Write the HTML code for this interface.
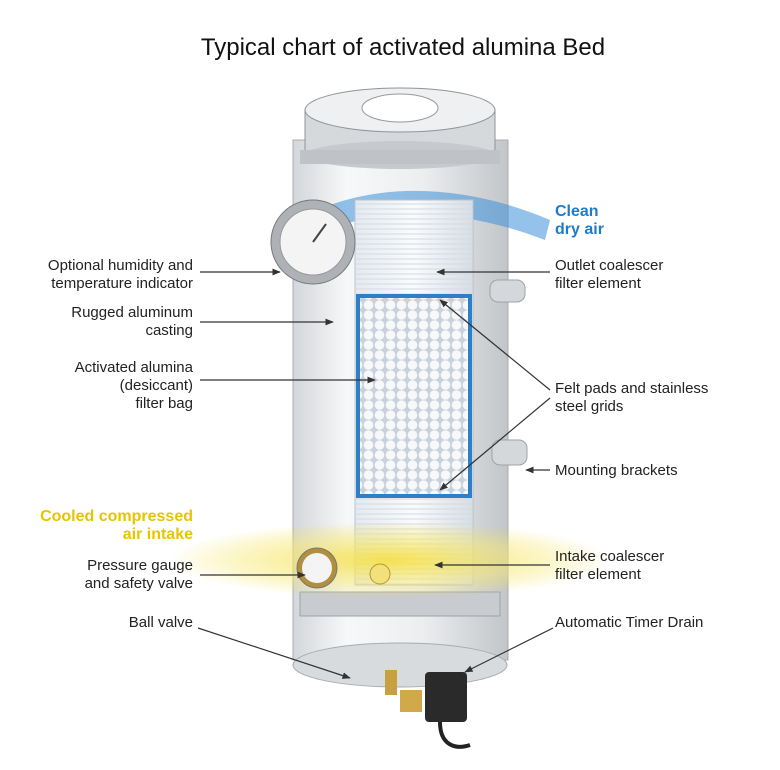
<!DOCTYPE html>
<html><head><meta charset="utf-8"><style>
html,body{margin:0;padding:0;background:#fff;}
svg{display:block;font-family:"Liberation Sans",Arial,sans-serif;}
.l{font-size:15px;fill:#222;}
</style></head><body>
<svg width="780" height="770" viewBox="0 0 780 770" xmlns="http://www.w3.org/2000/svg">
<defs>
<linearGradient id="body" x1="0" x2="1" y1="0" y2="0">
<stop offset="0" stop-color="#d3d6da"/><stop offset="0.25" stop-color="#f7f8f9"/><stop offset="0.6" stop-color="#eceef0"/><stop offset="1" stop-color="#c2c5c9"/></linearGradient>
<linearGradient id="cart" x1="0" x2="1"><stop offset="0" stop-color="#e4eaf0"/><stop offset="0.5" stop-color="#fafbfc"/><stop offset="1" stop-color="#d6dde5"/></linearGradient>
<pattern id="beads" width="11" height="10" patternUnits="userSpaceOnUse">
<rect width="11" height="10" fill="#c9d2dc"/><circle cx="5.5" cy="5" r="4.8" fill="#f7f8fa"/></pattern>
<pattern id="ridge" width="6" height="5" patternUnits="userSpaceOnUse"><rect width="6" height="5" fill="none"/><line x1="0" y1="4" x2="6" y2="4" stroke="#d3dae2" stroke-width="1"/></pattern>
<radialGradient id="yel" cx="0.5" cy="0.5" r="0.5"><stop offset="0" stop-color="#f5e04a" stop-opacity="0.95"/><stop offset="0.6" stop-color="#f7e870" stop-opacity="0.5"/><stop offset="1" stop-color="#f5e04a" stop-opacity="0"/></radialGradient>
<marker id="a" viewBox="0 0 10 10" refX="9" refY="5" markerWidth="7" markerHeight="7" orient="auto"><path d="M0,1 L10,5 L0,9 z" fill="#333"/></marker>
</defs>
<text x="403" y="55" text-anchor="middle" font-size="24" fill="#111">Typical chart of activated alumina Bed</text>
<!-- body -->
<rect x="293" y="140" width="215" height="520" fill="url(#body)" stroke="#a8adb2"/>
<ellipse cx="400" cy="665" rx="107" ry="22" fill="#d8dbde" stroke="#a8adb2"/>
<!-- top cap -->
<rect x="305" y="110" width="190" height="45" fill="#d6d9dc" stroke="#8f9499"/>
<ellipse cx="400" cy="155" rx="95" ry="14" fill="#c6c9cd"/>
<ellipse cx="400" cy="110" rx="95" ry="22" fill="#eef0f1" stroke="#8f9499"/>
<ellipse cx="400" cy="108" rx="38" ry="14" fill="#fff" stroke="#999"/>
<!-- clamp rings -->
<rect x="300" y="150" width="200" height="14" fill="#bfc3c7"/>
<rect x="300" y="592" width="200" height="24" fill="#c8cbcf" stroke="#9ea3a8"/>
<!-- brackets -->
<rect x="490" y="280" width="35" height="22" rx="8" fill="#d5d8db" stroke="#9ea3a8"/>
<rect x="492" y="440" width="35" height="25" rx="8" fill="#d5d8db" stroke="#9ea3a8"/>
<!-- blue swoosh -->
<path d="M330,205 C400,180 480,190 550,220 L545,240 C480,215 410,205 340,225 Z" fill="#3d8fd8" opacity="0.55"/>
<!-- cartridge -->
<rect x="355" y="200" width="118" height="385" fill="url(#cart)" stroke="#b9c3cd"/>
<rect x="355" y="200" width="118" height="385" fill="url(#ridge)"/>
<rect x="358" y="296" width="112" height="200" fill="url(#beads)" stroke="#2f7fc8" stroke-width="4"/>
<!-- yellow glow -->
<ellipse cx="390" cy="560" rx="220" ry="38" fill="url(#yel)"/>
<!-- humidity gauge -->
<circle cx="313" cy="242" r="42" fill="#aeb2b6" stroke="#777"/>
<circle cx="313" cy="242" r="33" fill="#f4f4f4" stroke="#999"/>
<line x1="313" y1="242" x2="326" y2="224" stroke="#444" stroke-width="2"/>
<!-- pressure gauge -->
<circle cx="317" cy="568" r="20" fill="#b09040" stroke="#777"/>
<circle cx="317" cy="568" r="15" fill="#f4f4f4"/>
<circle cx="380" cy="574" r="10" fill="#f3e07a" stroke="#b09a30"/>
<!-- drains -->
<rect x="385" y="670" width="12" height="25" fill="#c8a040"/>
<rect x="400" y="690" width="22" height="22" fill="#d1a94a"/>
<rect x="425" y="672" width="42" height="50" rx="4" fill="#2a2a2a"/>
<path d="M440,722 C440,745 455,750 470,745" stroke="#222" stroke-width="4" fill="none"/>
<!-- labels -->
<g class="l" text-anchor="end">
<text x="193" y="270">Optional humidity and</text><text x="193" y="288">temperature indicator</text>
<text x="193" y="317">Rugged aluminum</text><text x="193" y="335">casting</text>
<text x="193" y="372">Activated alumina</text><text x="193" y="390">(desiccant)</text><text x="193" y="408">filter bag</text>
<text x="193" y="570">Pressure gauge</text><text x="193" y="588">and safety valve</text>
<text x="193" y="627">Ball valve</text>
</g>
<g font-size="16" font-weight="bold" fill="#e8c400" text-anchor="end">
<text x="193" y="521">Cooled compressed</text><text x="193" y="539">air intake</text></g>
<g font-size="16" font-weight="bold" fill="#1f7cc8">
<text x="555" y="216">Clean</text><text x="555" y="234">dry air</text></g>
<g class="l">
<text x="555" y="270">Outlet coalescer</text><text x="555" y="288">filter element</text>
<text x="555" y="393">Felt pads and stainless</text><text x="555" y="411">steel grids</text>
<text x="555" y="475">Mounting brackets</text>
<text x="555" y="561">Intake coalescer</text><text x="555" y="579">filter element</text>
<text x="555" y="627">Automatic Timer Drain</text>
</g>
<g stroke="#333" stroke-width="1.2" marker-end="url(#a)" fill="none">
<line x1="200" y1="272" x2="280" y2="272"/>
<line x1="200" y1="322" x2="333" y2="322"/>
<line x1="200" y1="380" x2="375" y2="380"/>
<line x1="200" y1="575" x2="305" y2="575"/>
<line x1="198" y1="628" x2="350" y2="678"/>
<line x1="550" y1="272" x2="437" y2="272"/>
<line x1="550" y1="390" x2="440" y2="300"/>
<line x1="550" y1="398" x2="440" y2="490"/>
<line x1="550" y1="470" x2="526" y2="470"/>
<line x1="550" y1="565" x2="435" y2="565"/>
<line x1="553" y1="628" x2="465" y2="672"/>
</g>
</svg>
</body></html>
